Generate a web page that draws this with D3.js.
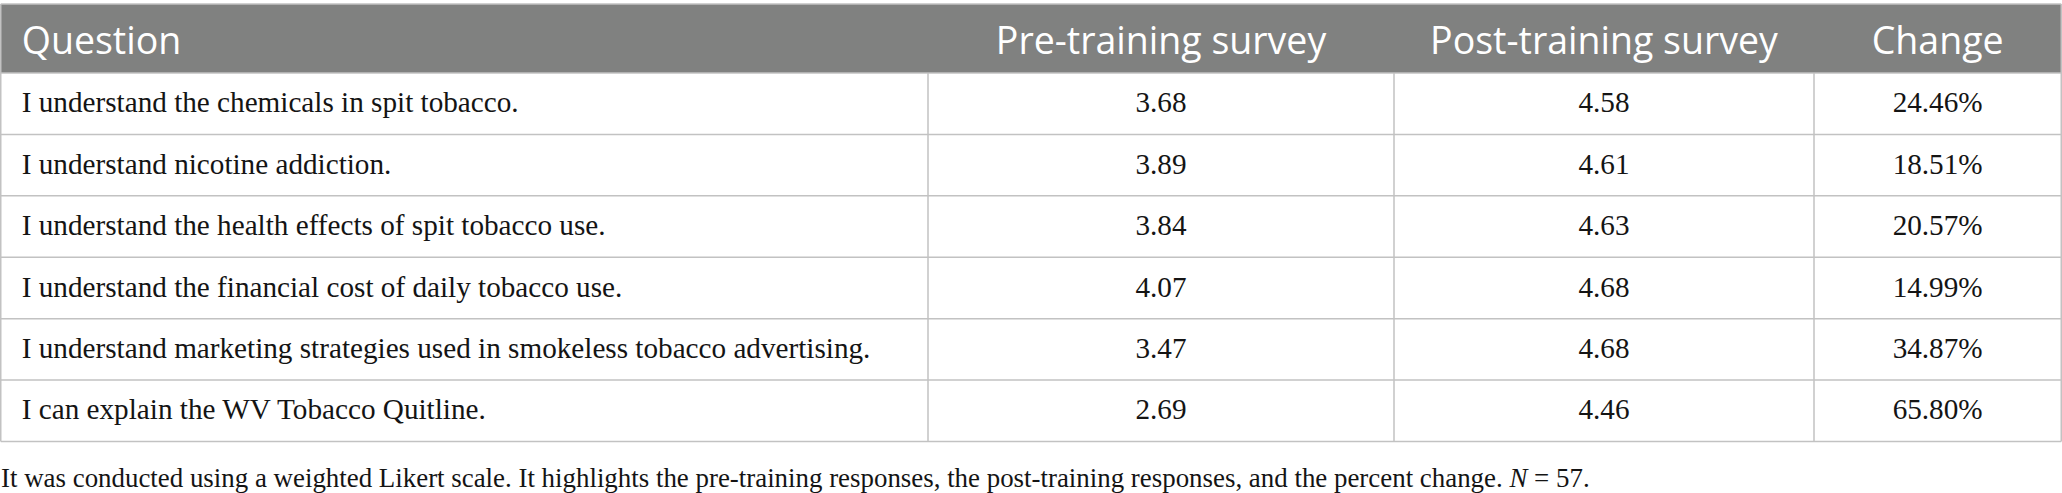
<!DOCTYPE html>
<html>
<head>
<meta charset="utf-8">
<script src="https://cdn.jsdelivr.net/npm/d3@7"></script>
<style>
  body { margin: 0; background: #fff; }
</style>
</head>
<body>
<div id="chart"></div>
<script>
// table data
const headers = ["Question", "Pre-training survey", "Post-training survey", "Change"];
const questions = [
    "I understand the chemicals in spit tobacco.",
    "I understand nicotine addiction.",
    "I understand the health effects of spit tobacco use.",
    "I understand the financial cost of daily tobacco use.",
    "I understand marketing strategies used in smokeless tobacco advertising.",
    "I can explain the WV Tobacco Quitline."
];
const preScores = [3.68, 3.89, 3.84, 4.07, 3.47, 2.69];
const postScores = [4.58, 4.61, 4.63, 4.68, 4.68, 4.46];
const changes = [24.46, 18.51, 20.57, 14.99, 34.87, 65.80];
const footnote = "It was conducted using a weighted Likert scale. It highlights the pre-training responses, the post-training responses, and the percent change. ";

const width = 2062;
const height = 493;
const colEdges = [0.75, 928, 1394, 1814, 2061.25];
const headerTop = 4, headerBottom = 73, tableBottom = 441.5;
const lineColor = "#c2c2c2";

const svg = d3.select("#chart").append("svg")
    .attr("width", width)
    .attr("height", height);

const y = d3.scaleBand()
    .domain(d3.range(questions.length))
    .range([headerBottom, tableBottom])
    .padding(0);

const fmt = d3.format(".2f");
const rows = questions.map((q, i) => [q, fmt(preScores[i]), fmt(postScores[i]), fmt(changes[i]) + "%"]);

// header band
svg.append("rect")
    .attr("x", colEdges[0])
    .attr("y", headerTop)
    .attr("width", colEdges[4] - colEdges[0])
    .attr("height", headerBottom - headerTop)
    .attr("fill", "#808180");

svg.selectAll(".head")
    .data(headers)
    .enter().append("text")
    .attr("class", "head")
    .attr("x", (d, i) => i === 0 ? colEdges[0] + 21 : (colEdges[i] + colEdges[i + 1]) / 2)
    .attr("y", headerTop + 49.5)
    .attr("text-anchor", (d, i) => i === 0 ? "start" : "middle")
    .attr("font-family", "'Open Sans', sans-serif")
    .attr("font-size", 37.5)
    .attr("fill", "#fff")
    .text(d => d);

// body cells
const rowG = svg.selectAll(".row")
    .data(rows)
    .enter().append("g")
    .attr("class", "row")
    .attr("transform", (d, i) => `translate(0,${y(i)})`);

rowG.selectAll("text")
    .data(d => d)
    .enter().append("text")
    .attr("x", (d, i) => i === 0 ? colEdges[0] + 21 : (colEdges[i] + colEdges[i + 1]) / 2)
    .attr("y", y.bandwidth() * 0.64)
    .attr("text-anchor", (d, i) => i === 0 ? "start" : "middle")
    .attr("font-family", "'Liberation Serif', serif")
    .attr("font-size", 29.2)
    .attr("fill", "#141414")
    .text(d => d);

// grid lines
const hLines = [headerTop, ...y.domain().map(i => y(i)), tableBottom];
svg.selectAll(".hline")
    .data(hLines)
    .enter().append("line")
    .attr("x1", colEdges[0])
    .attr("x2", colEdges[4])
    .attr("y1", d => d)
    .attr("y2", d => d)
    .attr("stroke", lineColor)
    .attr("stroke-width", 1.5);

svg.selectAll(".vline")
    .data(colEdges)
    .enter().append("line")
    .attr("x1", d => d)
    .attr("x2", d => d)
    .attr("y1", (d, i) => (i === 0 || i === 4) ? headerTop : headerBottom)
    .attr("y2", tableBottom)
    .attr("stroke", lineColor)
    .attr("stroke-width", 1.5);

// footnote
const note = svg.append("text")
    .attr("x", 1)
    .attr("y", 487)
    .attr("font-family", "'Liberation Serif', serif")
    .attr("font-size", 26.9)
    .attr("fill", "#141414");
note.append("tspan").text(footnote);
note.append("tspan").attr("font-style", "italic").text("N");
note.append("tspan").text(" = 57.");
</script>
</body>
</html>
